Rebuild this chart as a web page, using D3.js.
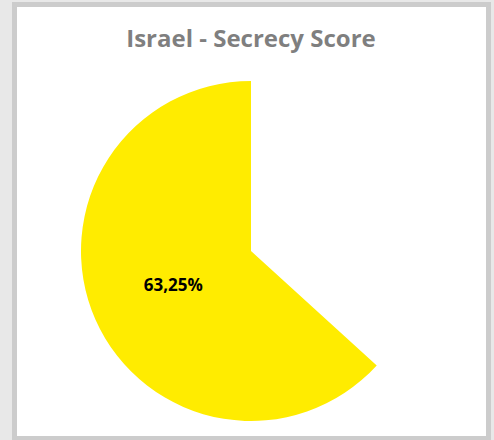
<!DOCTYPE html>
<html><head><meta charset="utf-8">
<script src="https://cdn.jsdelivr.net/npm/d3@7"></script>
<style>
html,body{margin:0;padding:0;background:#e8e8e8;}
svg{display:block;}
</style></head>
<body>
<svg id="chart" width="494" height="440"></svg>
<script>
const title = "Israel - Secrecy Score";
const categories = ["Rest", "Secrecy Score"];
const values = [36.75, 63.25];
const labels = ["", "63,25%"];
const colors = ["none", "#ffec00"];

const svg = d3.select("#chart");
// frame
svg.append("rect").attr("x", 14.5).attr("y", 4.5).attr("width", 474).attr("height", 434)
  .attr("fill", "#ffffff").attr("stroke", "#cccccc").attr("stroke-width", 5);

svg.append("text").attr("x", 251).attr("y", 47).attr("text-anchor", "middle")
  .attr("font-family", "Open Sans, sans-serif").attr("font-weight", 700)
  .attr("font-size", 24).attr("fill", "#7f7f7f").text(title);

const cx = 251, cy = 251, R = 170;
const pie = d3.pie().sort(null).value(d => d)(values);
const arc = d3.arc().innerRadius(0).outerRadius(R);
const g = svg.append("g").attr("transform", `translate(${cx},${cy})`);
g.selectAll("path").data(pie).join("path")
  .attr("d", arc).attr("fill", (d, i) => colors[i]);
g.selectAll("text").data(pie).join("text")
  .attr("transform", d => `translate(${arc.centroid(d)})`)
  .attr("text-anchor", "middle").attr("dy", "0.36em")
  .attr("font-family", "Open Sans, sans-serif").attr("font-weight", 700)
  .attr("font-size", 17).attr("fill", "#000")
  .text((d, i) => labels[i]);
</script>
</body></html>
